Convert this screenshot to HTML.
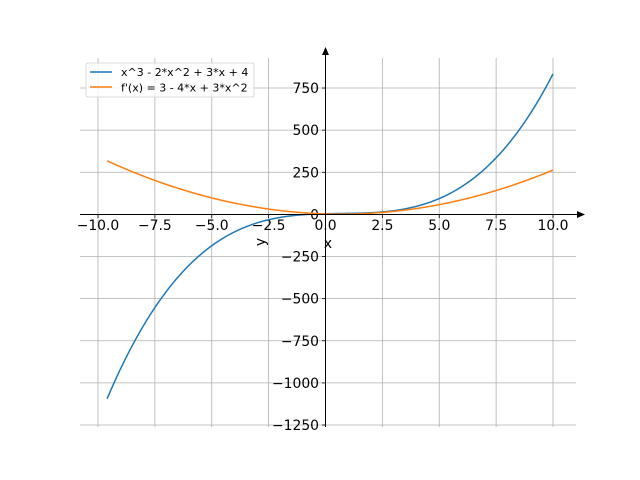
<!DOCTYPE html>
<html><head><meta charset="utf-8"><style>html,body{margin:0;padding:0;background:#fff}svg{display:block}</style></head>
<body>
<svg id="s" width="640" height="480" xmlns="http://www.w3.org/2000/svg" font-family="'DejaVu Sans','Liberation Sans',sans-serif">
<rect width="640" height="480" fill="#fff"/>
<g id="grid" stroke="#b0b0b0" stroke-width="0.8"></g>
<g id="ticks" stroke="#000" stroke-width="0.8"></g>
<g id="labels" font-size="13.9" fill="#000"></g>
<path id="p1" fill="none" stroke="#1f77b4" stroke-width="1.5"/>
<path id="p2" fill="none" stroke="#ff7f0e" stroke-width="1.5"/>
<line x1="80" y1="214.5" x2="580" y2="214.5" stroke="#000" stroke-width="1"/>
<polygon points="585,214.5 577,211 577,218" fill="#000"/>
<line x1="325.5" y1="52" x2="325.5" y2="427" stroke="#000" stroke-width="1"/>
<polygon points="325.5,47 322,55 329,55" fill="#000"/>
<text x="328" y="248" font-size="13.9" text-anchor="middle">x</text>
<text x="0" y="0" font-size="13.9" text-anchor="middle" transform="translate(265,242) rotate(-90)">y</text>
<rect x="86" y="63" width="168" height="34" rx="2" fill="#fff" fill-opacity="0.8" stroke="#d0d0d0" stroke-width="0.8"/>
<line x1="90" y1="72" x2="112" y2="72" stroke="#1f77b4" stroke-width="1.5"/>
<line x1="90" y1="87" x2="112" y2="87" stroke="#ff7f0e" stroke-width="1.5"/>
<text x="121" y="76" font-size="11">x^3 - 2*x^2 + 3*x + 4</text>
<text x="121" y="91.5" font-size="11">f'(x) = 3 - 4*x + 3*x^2</text>
</svg>
<script>
var X=function(x){return 325.5+x*22.75},Y=function(y){return 214.4-y*0.1685};
var g=document.getElementById('grid'),t=document.getElementById('ticks'),l=document.getElementById('labels');
var ns='http://www.w3.org/2000/svg';
function el(p,n,a,txt){var e=document.createElementNS(ns,n);for(var k in a)e.setAttribute(k,a[k]);if(txt)e.textContent=txt;p.appendChild(e);}
for(var v=-10;v<=10;v+=2.5){var px=X(v);el(g,'line',{x1:px,y1:58,x2:px,y2:427});el(t,'line',{x1:px,y1:214.5,x2:px,y2:218});
el(l,'text',{x:px,y:230,'text-anchor':'middle'},(v<0?'\u2212':'')+Math.abs(v).toFixed(1));}
for(var v=-1250;v<=750;v+=250){var py=Y(v);el(g,'line',{x1:80,y1:py,x2:576,y2:py});el(t,'line',{x1:322,y1:py,x2:325.5,y2:py});
el(l,'text',{x:319,y:py+5,'text-anchor':'end'},(v<0?'\u2212':'')+Math.abs(v));}
var d1='',d2='';for(var i=0;i<=400;i++){var x=-9.6+19.6*i/400;var y1=x*x*x-2*x*x+3*x+4,y2=3-4*x+3*x*x;
d1+=(i?'L':'M')+X(x).toFixed(2)+','+Y(y1).toFixed(2);d2+=(i?'L':'M')+X(x).toFixed(2)+','+Y(y2).toFixed(2);}
document.getElementById('p1').setAttribute('d',d1);document.getElementById('p2').setAttribute('d',d2);
</script>
</body></html>
